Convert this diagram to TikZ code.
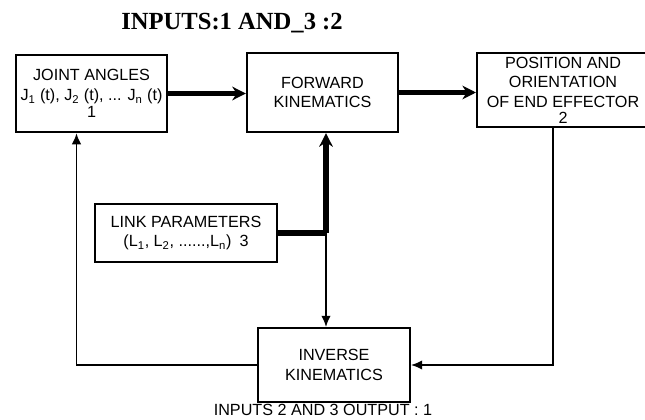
\documentclass[tikz,border=0pt]{standalone}
\usepackage{fontspec}
\setmainfont{Liberation Sans}
\newfontfamily\titlefont{Liberation Serif}
\usepackage{tikz}
\usetikzlibrary{arrows.meta,positioning,calc}

\begin{document}
\begin{tikzpicture}[x=0.025cm, y=-0.025cm,
    blk/.style={rectangle, draw=black, line width=1.4pt, inner sep=0pt, align=center,
        font=\fontsize{11.5}{14}\selectfont},
    fatarrow/.style={line width=3.6pt, -{Stealth[length=3.4mm, width=3.4mm]}},
    fatline/.style={line width=3.6pt},
    thinarrow/.style={line width=1.3pt, -{Latex[length=2.8mm, width=2.4mm]}}]
    \useasboundingbox (0,0) rectangle (645,420);

    \node[font=\titlefont\bfseries\fontsize{17.5}{20}\selectfont] (title) at (232,23) {INPUTS:1 AND\_3 :2};

    \node[blk, minimum width=3.78cm, minimum height=1.93cm] (ja) at (91.5,93.5)
        {JOINT ANGLES\\J\textsubscript{1} (t), J\textsubscript{2} (t), ... J\textsubscript{n} (t)\\[-2pt]1};
    \node[blk, minimum width=3.78cm, minimum height=1.98cm] (fk) at (322.5,92.5)
        {FORWARD\\KINEMATICS};
    \node[blk, minimum width=4.3cm, minimum height=1.85cm] (pos) at (563,90)
        {POSITION AND\\ORIENTATION\\OF END EFFECTOR\\[-3pt]2};
    \node[blk, minimum width=4.55cm, minimum height=1.45cm] (lp) at (186,233)
        {LINK PARAMETERS\\(L\textsubscript{1}, L\textsubscript{2}, ......,L\textsubscript{n})\enspace 3};
    \node[blk, minimum width=3.8cm, minimum height=1.85cm] (ik) at (334,365)
        {INVERSE\\KINEMATICS};
    \node[font=\fontsize{11.5}{14}\selectfont] (note) at (323,410) {INPUTS 2 AND 3 OUTPUT : 1};

    % forward path
    \draw[fatarrow] (ja.east) -- (ja.east -| fk.west);
    \draw[fatarrow] (fk.east) -- (fk.east -| pos.west);
    \coordinate (jn) at (326,233);
    \draw[fatline] (lp.east) -- (jn);
    \draw[fatarrow] (jn) -- (jn |- fk.south);
    \draw[thinarrow] (jn) -- (jn |- ik.north);

    % feedback loops
    \draw[thinarrow] ([xshift=-0.25cm]pos.south) |- (ik.east);
    \draw[thinarrow] (ik.west) -| ([xshift=-0.375cm]ja.south);
\end{tikzpicture}
\end{document}
